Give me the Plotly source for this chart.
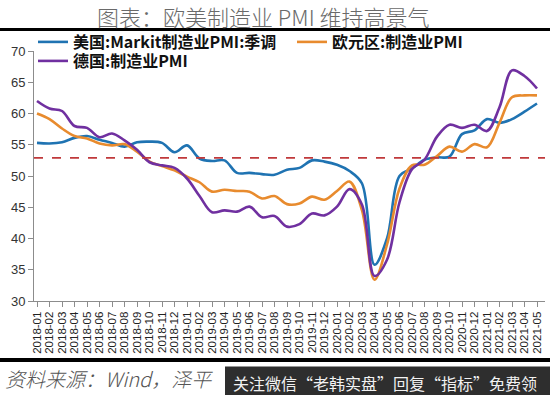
import plotly.graph_objects as go

# ---- data ----
months = [f"{y}-{m:02d}" for y in (2018, 2019, 2020, 2021) for m in range(1, 13)][:41]

us_pmi = [55.3, 55.2, 55.4, 56.1, 56.4, 55.8, 55.3, 54.7, 55.4, 55.5, 55.3, 53.8,
          54.9, 52.8, 52.4, 52.5, 50.5, 50.5, 50.3, 50.2, 51.0, 51.3, 52.5, 52.3,
          51.8, 50.8, 48.8, 35.8, 40.0, 50.0, 51.2, 52.6, 53.0, 53.1, 56.7, 57.3,
          59.1, 58.5, 59.1, 60.3, 61.6]
euro_pmi = [60.0, 59.1, 57.6, 56.4, 56.0, 55.2, 54.9, 55.1, 53.9, 52.3, 51.6, 50.9,
            49.9, 49.0, 47.5, 47.8, 47.6, 47.5, 46.4, 46.8, 45.5, 45.6, 46.7, 46.2,
            47.6, 49.1, 44.5, 33.4, 39.0, 48.0, 51.7, 51.8, 53.2, 54.7, 53.9, 55.1,
            54.6, 58.5, 62.6, 62.9, 62.9]
de_pmi = [62.0, 60.8, 60.4, 58.0, 57.7, 56.2, 56.8, 55.7, 54.2, 52.2, 51.7, 51.3,
          49.6, 46.8, 44.2, 44.5, 44.3, 45.1, 43.4, 43.6, 41.9, 42.3, 44.0, 43.7,
          45.1, 47.9, 45.4, 34.0, 36.6, 45.8, 51.1, 52.6, 56.3, 58.2, 57.7, 58.2,
          57.2, 61.0, 66.9, 66.0, 64.0]
threshold = 52.9

series_names = ["美国:Markit制造业PMI:季调", "欧元区:制造业PMI", "德国:制造业PMI"]
series_colors = ["#1f73b2", "#e88b2e", "#7030a0"]
series_legends = ["legend", "legend2", "legend3"]
y_ticks = [30, 35, 40, 45, 50, 55, 60, 65, 70]

title_text = "图表：欧美制造业 PMI 维持高景气"
source_text = "资料来源：Wind，泽平"
watermark_text = "关注微信“老韩实盘”回复“指标”免费领"

# ---- figure ----
fig = go.Figure()
for name, vals, col, lg in zip(series_names, [us_pmi, euro_pmi, de_pmi], series_colors, series_legends):
    fig.add_trace(go.Scatter(
        x=months, y=vals, name=name, mode="lines", legend=lg,
        line=dict(color=col, width=2.6, shape="spline", smoothing=1.0),
    ))

fig.add_shape(type="line", xref="paper", x0=0, x1=1, yref="y", y0=threshold, y1=threshold,
              line=dict(color="#c0393b", width=1.6, dash="dash"))

W, H = 550, 395
L, R, T, B = 34, 5, 51, 94
pw, ph = W - L - R, H - T - B


def px(X):
    return (X - L) / pw


def py(Y):
    return (H - B - Y) / ph


# title rule and bottom rule
fig.add_shape(type="line", xref="paper", yref="paper", x0=px(0), x1=px(550), y0=py(29.5), y1=py(29.5),
              line=dict(color="black", width=3))
fig.add_shape(type="line", xref="paper", yref="paper", x0=px(0), x1=px(550), y0=py(360), y1=py(360),
              line=dict(color="black", width=4))
# watermark box
fig.add_shape(type="rect", xref="paper", yref="paper", x0=px(225), x1=px(551), y0=py(366.5), y1=py(396),
              line=dict(width=0), fillcolor="#2e2e2e", layer="above")

fig.add_annotation(text=title_text, xref="paper", yref="paper", x=px(263), y=py(16),
                   xanchor="center", yanchor="middle", showarrow=False,
                   font=dict(family="Noto Sans CJK SC", size=22, color="#6a6a6a", weight=300))
fig.add_annotation(text=source_text, xref="paper", yref="paper", x=px(3), y=py(378),
                   xanchor="left", yanchor="middle", showarrow=False,
                   font=dict(family="Noto Sans CJK SC", size=20, color="#555555", style="italic", weight=300))
fig.add_annotation(text=watermark_text, xref="paper", yref="paper", x=px(385), y=py(383),
                   xanchor="center", yanchor="middle", showarrow=False,
                   font=dict(family="Noto Sans CJK SC", size=16, color="#f2f2f2"))

legend_font = dict(family="Noto Sans CJK SC", size=16, color="#111111", weight="bold")
common = dict(orientation="v", xanchor="left", yanchor="top", tracegroupgap=0,
              font=legend_font, bgcolor="rgba(0,0,0,0)", itemwidth=30)
fig.update_layout(
    width=W, height=H,
    margin=dict(l=L, r=R, t=T, b=B, pad=0, autoexpand=False),
    paper_bgcolor="white", plot_bgcolor="white",
    showlegend=True,
    legend=dict(x=px(33), y=py(25), **common),
    legend2=dict(x=px(292), y=py(25), **common),
    legend3=dict(x=px(33), y=py(44), **common),
    xaxis=dict(type="category", range=[-0.24, 40.64], showgrid=False, zeroline=False,
               tickmode="array", tickvals=months, ticktext=months,
               showline=True, linecolor="#8c8c8c", linewidth=1,
               ticks="outside", ticklen=5, tickcolor="#8c8c8c", tickangle=-90,
               tickfont=dict(family="Liberation Sans", size=11.5, color="#222222")),
    yaxis=dict(range=[30, 70], tickvals=y_ticks, showgrid=False, zeroline=False,
               showline=True, linecolor="#8c8c8c", linewidth=1,
               ticks="outside", ticklen=5, tickcolor="#8c8c8c",
               tickfont=dict(family="Liberation Sans", size=13, color="#333333")),
)

fig.write_html("out.html", config={"displayModeBar": False},
               post_script="document.body.style.margin='0';")
